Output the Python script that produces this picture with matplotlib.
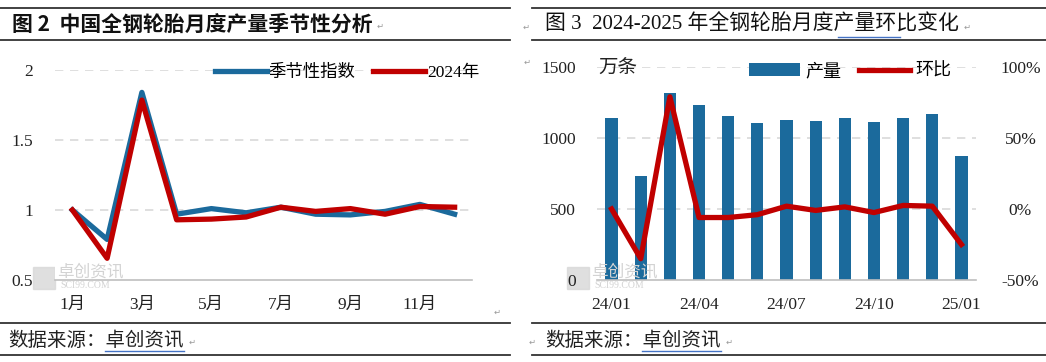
import matplotlib
matplotlib.use("Agg")
import matplotlib.pyplot as plt
from matplotlib.lines import Line2D
from matplotlib.patches import Rectangle

# ---------------- data ----------------
months = ["1月", "2月", "3月", "4月", "5月", "6月", "7月", "8月", "9月", "10月", "11月", "12月"]
seasonal_index = [1.00, 0.79, 1.84, 0.97, 1.01, 0.98, 1.02, 0.97, 0.965, 0.99, 1.04, 0.97]
year_2024 = [1.00, 0.655, 1.785, 0.93, 0.935, 0.95, 1.02, 0.99, 1.01, 0.97, 1.025, 1.02]

periods = ["24/01", "24/02", "24/03", "24/04", "24/05", "24/06", "24/07",
           "24/08", "24/09", "24/10", "24/11", "24/12", "25/01"]
output = [1141, 731, 1317, 1235, 1155, 1106, 1127, 1120, 1141, 1113, 1141, 1169, 872]
mom = [0.0, -0.35, 0.79, -0.06, -0.06, -0.04, 0.02, -0.01, 0.015, -0.025, 0.025, 0.02, -0.25]

left_ticks = [0.5, 1.0, 1.5, 2.0]
left_ticklabels = ["0.5", "1", "1.5", "2"]
bar_ticks = [0, 500, 1000, 1500]
pct_ticks = [-0.5, 0.0, 0.5, 1.0]
pct_ticklabels = ["-50%", "0%", "50%", "100%"]

BLUE = "#1B6A9C"
RED = "#C00000"
GRID = "#D9D9D9"
FAM = ["Liberation Serif", "Noto Sans CJK SC"]
CJK = ["Noto Sans CJK SC", "DejaVu Sans"]

W, H = 1046, 362
fig = plt.figure(figsize=(W / 100, H / 100), dpi=100)
plt.rcParams["font.family"] = FAM


def fx(x):
    return x / W


def fy(y):
    return 1 - y / H


def hline(x0, x1, y, color="#333333", lw=1.3):
    fig.add_artist(Line2D([fx(x0), fx(x1)], [fy(y), fy(y)], color=color, lw=lw,
                          transform=fig.transFigure))


def pmark(x, y):
    fig.text(fx(x), fy(y), "↵", fontsize=6, color="#999999", family="DejaVu Sans",
             ha="center", va="center")


# ---------------- document frame ----------------
hline(0, 510, 8)
hline(0, 510, 40)
hline(532, 1046, 8)
hline(532, 1046, 40)
hline(0, 510, 323)
hline(0, 510, 355)
hline(532, 1046, 323)
hline(532, 1046, 355)

fig.text(fx(12), fy(24), "图 2  中国全钢轮胎月度产量季节性分析", fontsize=15, weight="bold",
         family=CJK, ha="left", va="center", color="#111111")
fig.text(fx(545), fy(24), "图 3  2024-2025 年全钢轮胎月度产量环比变化", fontsize=15,
         family=FAM, ha="left", va="center", color="#111111")
hline(838, 900, 37, color="#4472C4", lw=1.0)
pmark(380, 26)
pmark(526, 27)
pmark(967, 27)
pmark(527, 62)
pmark(497, 312)

fig.text(fx(8), fy(340), "数据来源：卓创资讯", fontsize=14, family=CJK, ha="left", va="center",
         color="#222222")
fig.text(fx(545), fy(340), "数据来源：卓创资讯", fontsize=14, family=CJK, ha="left", va="center",
         color="#222222")
hline(105, 184, 351, color="#4472C4", lw=1.0)
hline(642, 721, 351, color="#4472C4", lw=1.0)
pmark(192, 342)
pmark(532, 342)
pmark(729, 342)


def watermark(x, y):
    fig.add_artist(Rectangle((fx(x), fy(y + 22)), fx(22), 22 / H, transform=fig.transFigure,
                             color="#D8D8D8", zorder=0, alpha=0.8))
    fig.text(fx(x + 24), fy(y + 5), "卓创资讯", fontsize=12, family=CJK, color="#D3D3D3",
             ha="left", va="center", zorder=0)
    fig.text(fx(x + 27), fy(y + 19), "SCI99.COM", fontsize=7, family="Liberation Serif",
             color="#D3D3D3", ha="left", va="center", zorder=0)


watermark(33, 267)
watermark(567, 267)

# ---------------- left chart ----------------
ax1 = fig.add_axes([fx(55), fy(280), fx(472) - fx(55), (280 - 70) / H])
ax1.set_xlim(-0.5, len(months) - 0.5)
ax1.set_ylim(0.5, 2.0)
for s in ["top", "right", "left"]:
    ax1.spines[s].set_visible(False)
ax1.spines["bottom"].set_color("#BFBFBF")
ax1.spines["bottom"].set_linewidth(1.2)
for v in [1.0, 1.5, 2.0]:
    ax1.axhline(v, color=GRID, lw=1.2, dashes=(5, 4), zorder=0)
x = list(range(len(months)))
ax1.plot(x, seasonal_index, color=BLUE, lw=3.8, label="季节性指数", zorder=3, clip_on=False)
ax1.plot(x, year_2024, color=RED, lw=3.8, label="2024年", zorder=4, clip_on=False)
ax1.set_yticks(left_ticks)
ax1.set_yticklabels(left_ticklabels)
ax1.set_xticks(x[::2])
ax1.set_xticklabels(months[::2])
ax1.tick_params(axis="y", length=0, pad=16, labelsize=12.5, colors="#222222")
ax1.tick_params(axis="x", length=0, pad=12, labelsize=12.5, colors="#222222")
ax1.legend(loc="center", bbox_to_anchor=(fx(347), fy(73)), bbox_transform=fig.transFigure,
           ncol=2, frameon=False, handlelength=3.0, handletextpad=0.1, columnspacing=1.0,
           prop={"family": FAM, "size": 12.5})

# ---------------- right chart ----------------
ax2 = fig.add_axes([fx(597), fy(280), fx(976) - fx(597), (280 - 67) / H])
xi = list(range(len(periods)))
ax2.set_xlim(-0.5, len(periods) - 0.5)
ax2.set_ylim(0, 1500)
for s in ["top", "right", "left"]:
    ax2.spines[s].set_visible(False)
ax2.spines["bottom"].set_color("#BFBFBF")
ax2.spines["bottom"].set_linewidth(1.2)
for v in [500, 1000, 1500]:
    ax2.axhline(v, color=GRID, lw=1.2, dashes=(5, 4), zorder=0)
bars = ax2.bar(xi, output, width=0.42, color=BLUE, label="产量", zorder=2)
ax2.set_yticks(bar_ticks)
ax2.set_xticks(xi[::3])
ax2.set_xticklabels(periods[::3])
ax2.tick_params(axis="y", length=0, pad=15, labelsize=12.5, colors="#222222")
ax2.tick_params(axis="x", length=0, pad=12, labelsize=12.5, colors="#222222")
ax2.text(fx(598), fy(68), "万条", transform=fig.transFigure, fontsize=14, family=CJK,
         ha="left", va="center", color="#222222")

ax3 = ax2.twinx()
ax3.set_ylim(-0.5, 1.0)
for s in ["top", "right", "left", "bottom"]:
    ax3.spines[s].set_visible(False)
line, = ax3.plot(xi, mom, color=RED, lw=3.8, label="环比", zorder=4, clip_on=False)
ax3.set_yticks(pct_ticks)
ax3.set_yticklabels(pct_ticklabels)
ax3.tick_params(axis="y", length=0, pad=32, labelsize=12.5, colors="#222222")
for t in ax3.get_yticklabels():
    t.set_horizontalalignment("center")

ax3.legend([bars, line], ["产量", "环比"], loc="center", bbox_to_anchor=(fx(850), fy(71)),
           bbox_transform=fig.transFigure, ncol=2, frameon=False, handlelength=2.8,
           handleheight=0.7, handletextpad=0.3, columnspacing=1.0,
           prop={"family": CJK, "size": 13})

fig.savefig("out.png", dpi=100)
